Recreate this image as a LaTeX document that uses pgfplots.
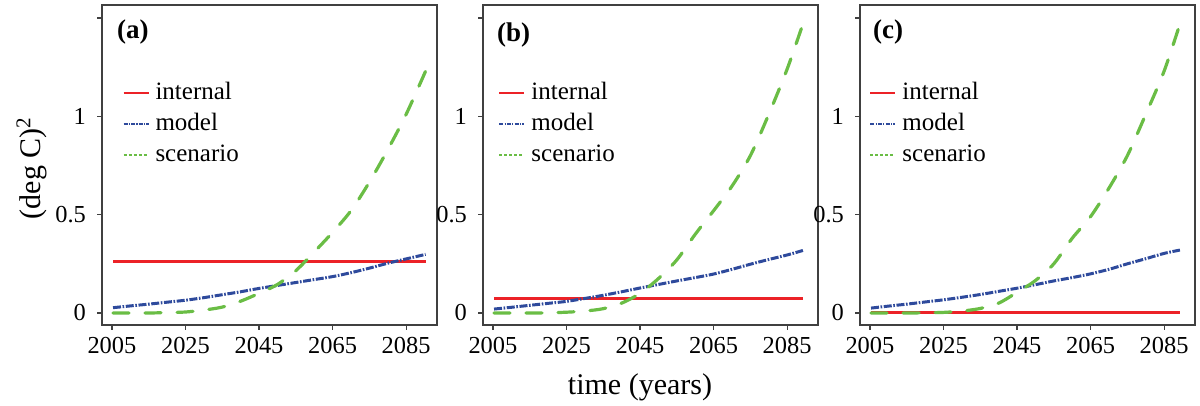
\documentclass[border=0pt]{standalone}
\usepackage{fontspec}
\setmainfont{Liberation Serif}
\usepackage{pgfplots}
\pgfplotsset{compat=1.18}
\definecolor{cred}{HTML}{EC2227}
\definecolor{cblue}{HTML}{2E4A9C}
\definecolor{cgreen}{HTML}{6ABD45}
\definecolor{cbox}{HTML}{404040}
\pgfplotsset{
  panel/.style={
    scale only axis, width=167.5pt, height=160pt, anchor=south west,
    xmin=2002.3, xmax=2093.4, ymin=-0.061, ymax=1.566,
    axis line style={cbox, line width=0.9pt},
    xtick={2005,2025,2045,2065,2085},
    xticklabels={2005,2025,2045,2065,2085},
    ytick={0,0.5,1,1.5}, yticklabels={0,0.5,1,},
    tick align=outside, tickwidth=2.5pt,
    xtick pos=bottom, ytick pos=left,
    major tick style={cbox, line width=0.6pt},
    ticklabel style={font=\fontsize{12.2}{14}\selectfont},
    yticklabel style={xshift=-2pt},
    legend cell align=left,
    legend style={anchor=north west, draw=none, fill=none, inner sep=0pt,
      row sep=3.5pt,
      nodes={inner sep=0pt, text height=9pt, text depth=3pt, font=\fontsize{12.5}{14}\selectfont},
      /tikz/every odd column/.style={column sep=3pt}},
  },
  intl/.style={cred, line width=1.5pt},
  modl/.style={cblue, line width=1.5pt, dash pattern=on 4pt off 0.8pt on 0.8pt off 0.8pt},
  scen/.style={cgreen, line width=1.6pt, line cap=round, dash pattern=on 8pt off 8pt, smooth},
}
\newcommand{\legs}{%
\addlegendimage{legend image code/.code={\draw[draw=cred, line width=1pt] (0pt,0pt) -- (12.5pt,0pt);}}\addlegendentry{internal}
\addlegendimage{legend image code/.code={\draw[draw=cblue, line width=1pt, dash pattern=on 2pt off 0.6pt on 0.6pt off 0.6pt] (0pt,0pt) -- (12.5pt,0pt);}}\addlegendentry{model}
\addlegendimage{legend image code/.code={\draw[draw=cgreen, line width=1pt, dash pattern=on 1.5pt off 1pt] (0pt,0pt) -- (12.5pt,0pt);}}\addlegendentry{scenario}
}
\begin{document}
\begin{tikzpicture}
\useasboundingbox (0,0) rectangle (600pt,203pt);
% ---------- (a)
\begin{axis}[panel, at={(51pt,40.5pt)}, legend style={at={(0.06,0.7625)}}]
\legs
\addplot[intl, forget plot] coordinates {(2005.3,0.26) (2090.3,0.26)};
\addplot[modl, smooth, forget plot] coordinates {
(2005.3,0.027) (2010,0.036) (2015,0.045) (2020,0.055) (2025,0.065) (2030,0.078)
(2035,0.093) (2040,0.108) (2045,0.125) (2050,0.140) (2055,0.155) (2060,0.170)
(2065,0.185) (2070,0.205) (2075,0.228) (2080,0.253) (2085,0.275) (2090.3,0.298)};
\addplot[scen, forget plot] coordinates {
(2005.3,0) (2010,0) (2015,0) (2020,0.002) (2025,0.005) (2030,0.015)
(2035,0.030) (2040,0.060) (2045,0.100) (2050,0.145) (2055,0.215) (2060,0.310)
(2065,0.410) (2070,0.520) (2075,0.665) (2080,0.830) (2085,1.010) (2090.3,1.23)};
\node[anchor=west, font=\fontsize{13.5}{15}\selectfont\bfseries] at (rel axis cs:0.024,0.916) {(a)};
\end{axis}
% ---------- (b)
\begin{axis}[panel, at={(241.5pt,40.5pt)}, legend style={at={(0.045,0.7625)}}]
\legs
\addplot[intl, forget plot] coordinates {(2005.3,0.076) (2089.3,0.076)};
\addplot[modl, smooth, forget plot] coordinates {
(2005.3,0.020) (2010,0.029) (2015,0.039) (2020,0.049) (2025,0.059) (2030,0.074)
(2035,0.090) (2040,0.108) (2045,0.127) (2050,0.145) (2055,0.163) (2060,0.180)
(2065,0.198) (2070,0.222) (2075,0.248) (2080,0.272) (2085,0.295) (2089.3,0.318)};
\addplot[scen, forget plot] coordinates {
(2005.3,0) (2010,0) (2015,0) (2020,0.001) (2025,0.004) (2030,0.010)
(2035,0.022) (2040,0.050) (2045,0.100) (2050,0.175) (2055,0.270) (2060,0.400)
(2065,0.520) (2070,0.645) (2075,0.800) (2080,1.010) (2085,1.240) (2089.3,1.47)};
\node[anchor=west, font=\fontsize{13.5}{15}\selectfont\bfseries] at (rel axis cs:0.021,0.906) {(b)};
\end{axis}
% ---------- (c)
\begin{axis}[panel, at={(430pt,40.5pt)}, legend style={at={(0.027,0.7625)}}]
\legs
\addplot[intl, forget plot] coordinates {(2005.3,0) (2089.3,0)};
\addplot[modl, smooth, forget plot] coordinates {
(2005.3,0.025) (2010,0.035) (2015,0.045) (2020,0.056) (2025,0.067) (2030,0.080)
(2035,0.094) (2040,0.110) (2045,0.126) (2050,0.144) (2055,0.163) (2060,0.180)
(2065,0.199) (2070,0.222) (2075,0.250) (2080,0.276) (2085,0.303) (2089.3,0.320)};
\addplot[scen, forget plot] coordinates {
(2005.3,0) (2010,0) (2015,0) (2020,0.001) (2025,0.003) (2030,0.010)
(2035,0.023) (2040,0.050) (2045,0.105) (2050,0.165) (2055,0.250) (2060,0.380)
(2065,0.490) (2070,0.635) (2075,0.800) (2080,1.010) (2085,1.230) (2089.3,1.47)};
\node[anchor=west, font=\fontsize{13.5}{15}\selectfont\bfseries] at (rel axis cs:0.018,0.916) {(c)};
\end{axis}
\node[rotate=90, font=\fontsize{15}{17}\selectfont] at (16pt,119pt) {(deg C)\textsuperscript{2}};
\node[font=\fontsize{15}{17}\selectfont] at (320pt,9.5pt) {time (years)};
\end{tikzpicture}
\end{document}
